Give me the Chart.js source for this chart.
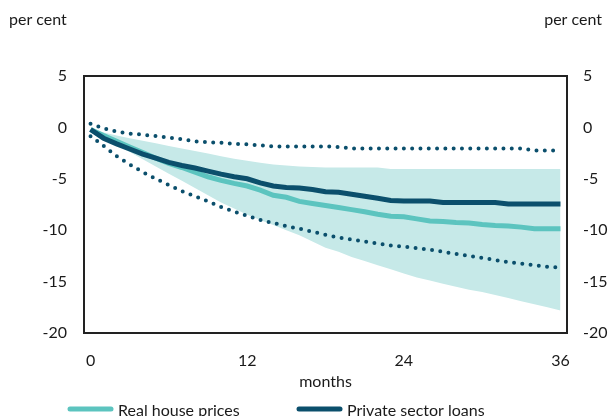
<!DOCTYPE html>
<html>
<head>
<meta charset="utf-8">
<script src="https://cdn.jsdelivr.net/npm/chart.js@4/dist/chart.umd.min.js"></script>
<style>
  html, body { margin: 0; padding: 0; background: #ffffff; }
  #wrap { width: 615px; height: 416px; }
</style>
</head>
<body>
<div id="wrap"><canvas id="chart" width="615" height="416"></canvas></div>
<script>
// Horizon in months after the shock
const months = Array.from({ length: 37 }, (_, i) => i);
const xTickLabels = [0, 12, 24, 36];
const yTicks = [5, 0, -5, -10, -15, -20];

// Real house prices: point estimate and confidence band
const housePrices = [-0.2, -0.8, -1.35, -1.9, -2.45, -3.0, -3.5, -3.9, -4.35, -4.8,
  -5.15, -5.45, -5.7, -6.1, -6.6, -6.8, -7.2, -7.4, -7.6, -7.8,
  -8.0, -8.2, -8.45, -8.65, -8.7, -8.9, -9.1, -9.15, -9.25, -9.3,
  -9.45, -9.55, -9.6, -9.7, -9.85, -9.85, -9.85];
const houseBandUpper = [-0.1, -0.5, -0.8, -1.05, -1.3, -1.55, -1.8, -2.05, -2.3, -2.55,
  -2.8, -3.05, -3.25, -3.45, -3.6, -3.7, -3.8, -3.85, -3.9, -3.9,
  -3.9, -3.9, -3.9, -4.05, -4.05, -4.05, -4.05, -4.05, -4.05, -4.05,
  -4.05, -4.05, -4.05, -4.05, -4.05, -4.05, -4.05];
const houseBandLower = [-0.3, -1.0, -1.7, -2.4, -3.1, -3.8, -4.5, -5.2, -5.9, -6.6,
  -7.3, -7.9, -8.5, -9.0, -9.5, -10.0, -10.5, -11.1, -11.7, -12.1,
  -12.6, -13.0, -13.4, -13.8, -14.2, -14.6, -14.9, -15.2, -15.5, -15.8,
  -16.0, -16.3, -16.6, -16.9, -17.2, -17.5, -17.8];

// Private sector loans: point estimate and confidence bounds
const privateLoans = [-0.2, -1.05, -1.6, -2.1, -2.6, -3.0, -3.4, -3.7, -3.95, -4.25,
  -4.55, -4.8, -5.0, -5.4, -5.7, -5.85, -5.9, -6.05, -6.25, -6.3,
  -6.5, -6.7, -6.9, -7.1, -7.15, -7.15, -7.15, -7.3, -7.3, -7.3,
  -7.3, -7.3, -7.45, -7.45, -7.45, -7.45, -7.45];
const loansUpper = [0.35, -0.1, -0.4, -0.6, -0.7, -0.85, -1.0, -1.15, -1.35, -1.45,
  -1.5, -1.6, -1.65, -1.75, -1.85, -1.85, -1.85, -1.85, -1.85, -1.9,
  -2.05, -2.05, -2.05, -2.05, -2.05, -2.05, -2.05, -2.05, -2.05, -2.05,
  -2.05, -2.05, -2.05, -2.05, -2.25, -2.25, -2.25];
const loansLower = [-0.85, -1.8, -2.8, -3.6, -4.35, -5.0, -5.6, -6.2, -6.7, -7.2,
  -7.75, -8.2, -8.6, -9.0, -9.3, -9.6, -9.85, -10.15, -10.45, -10.7,
  -10.9, -11.1, -11.3, -11.5, -11.6, -11.75, -11.9, -12.1, -12.3, -12.5,
  -12.7, -12.9, -13.1, -13.25, -13.4, -13.55, -13.65];

const TEAL = '#5cc4bf';
const NAVY = '#0b4f6c';
const BAND = '#c6e9e8';
const TEXT = '#1a1a1a';
const FONT = 'Lato, "Open Sans", sans-serif';

// Frame around the plot area, unit labels and the legend row
const decorations = {
  id: 'decorations',
  afterDatasetsDraw(chart) {
    const { ctx, chartArea: a } = chart;
    ctx.save();
    ctx.strokeStyle = '#222222';
    ctx.lineWidth = 2;
    ctx.strokeRect(a.left, a.top, a.right - a.left, a.bottom - a.top);
    ctx.restore();
  },
  afterDraw(chart) {
    const { ctx } = chart;
    ctx.save();
    ctx.fillStyle = TEXT;
    ctx.font = '16px ' + FONT;
    ctx.textBaseline = 'middle';
    ctx.textAlign = 'left';
    ctx.fillText('per cent', 9, 20);
    ctx.textAlign = 'right';
    ctx.fillText('per cent', 602, 20);

    // legend entries
    const items = chart.data.datasets.filter(d => d.inLegend);
    const starts = [68, 297];
    items.forEach((d, i) => {
      const x0 = starts[i];
      ctx.strokeStyle = d.borderColor;
      ctx.lineWidth = 5;
      ctx.lineCap = 'round';
      ctx.beginPath();
      ctx.moveTo(x0 + 2, 409);
      ctx.lineTo(x0 + 43, 409);
      ctx.stroke();
      ctx.fillStyle = TEXT;
      ctx.textAlign = 'left';
      ctx.fillText(d.label, x0 + 50, 411);
    });
    ctx.restore();
  }
};

new Chart(document.getElementById('chart'), {
  type: 'line',
  data: {
    labels: months,
    datasets: [
      { label: 'Real house prices', data: housePrices, inLegend: true,
        borderColor: TEAL, borderWidth: 5, pointRadius: 0, fill: false, order: 2 },
      { label: 'Private sector loans', data: privateLoans, inLegend: true,
        borderColor: NAVY, borderWidth: 5, pointRadius: 0, fill: false, order: 1 },
      { label: 'Loans upper bound', data: loansUpper,
        borderColor: NAVY, borderWidth: 4, borderDash: [0, 8.3], borderCapStyle: 'round',
        pointRadius: 0, fill: false, order: 3 },
      { label: 'Loans lower bound', data: loansLower,
        borderColor: NAVY, borderWidth: 4, borderDash: [0, 8.3], borderCapStyle: 'round',
        pointRadius: 0, fill: false, order: 3 },
      { label: 'House prices band upper', data: houseBandUpper,
        borderWidth: 0, borderColor: 'rgba(0,0,0,0)', pointRadius: 0, fill: false, order: 10 },
      { label: 'House prices band lower', data: houseBandLower,
        borderWidth: 0, borderColor: 'rgba(0,0,0,0)', pointRadius: 0,
        fill: '-1', backgroundColor: BAND, order: 10 }
    ]
  },
  options: {
    responsive: false,
    animation: false,
    layout: { padding: { top: 76, bottom: 25, left: 0, right: 0 } },
    plugins: { legend: { display: false }, tooltip: { enabled: false }, title: { display: false } },
    elements: { line: { tension: 0 } },
    scales: {
      x: {
        type: 'category',
        offset: true,
        grid: { display: false, drawTicks: false },
        border: { display: false },
        ticks: {
          autoSkip: false, maxRotation: 0, padding: 18, color: TEXT,
          font: { family: FONT, size: 16 },
          callback(value, index) {
            const m = months[index];
            return xTickLabels.includes(m) ? String(m) : null;
          }
        },
        title: { display: true, text: 'months', color: TEXT, font: { family: FONT, size: 16 }, padding: 0 },
        afterFit(scale) { scale.height = 58; }
      },
      y: {
        position: 'left', min: -20, max: 5,
        grid: { display: false, drawTicks: false },
        border: { display: false },
        ticks: { stepSize: 5, padding: 17, color: TEXT, font: { family: FONT, size: 16 } },
        afterBuildTicks(scale) { scale.ticks = yTicks.map(v => ({ value: v })); },
        afterFit(scale) { scale.width = 84; }
      },
      y2: {
        position: 'right', min: -20, max: 5,
        grid: { display: false, drawTicks: false },
        border: { display: false },
        ticks: { stepSize: 5, padding: 16, color: TEXT, font: { family: FONT, size: 16 } },
        afterBuildTicks(scale) { scale.ticks = yTicks.map(v => ({ value: v })); },
        afterFit(scale) { scale.width = 48; }
      }
    }
  },
  plugins: [decorations]
});
</script>
</body>
</html>
